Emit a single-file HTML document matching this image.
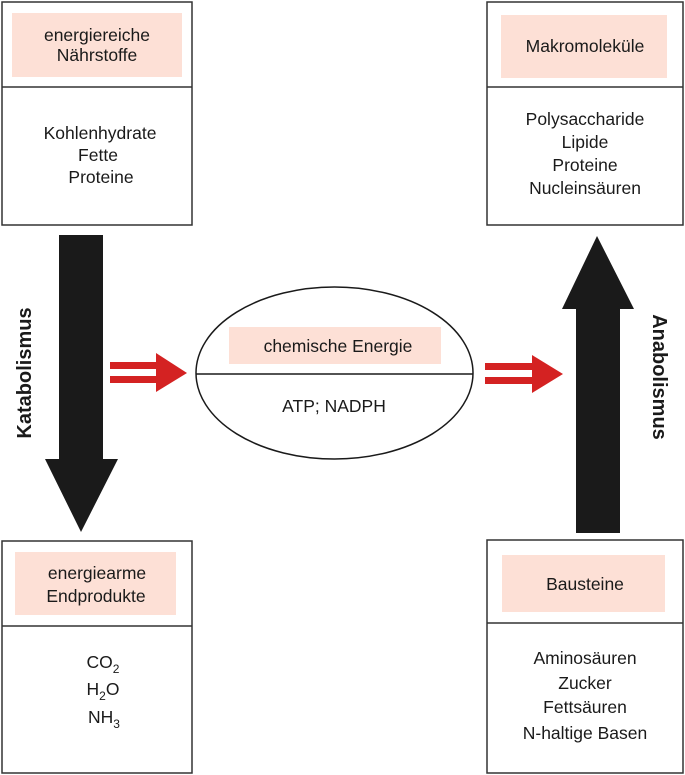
<!DOCTYPE html>
<html><head><meta charset="utf-8"><style>
html,body{margin:0;padding:0;background:#fff;}
svg{display:block;}
text{font-family:"Liberation Sans",Arial,sans-serif;fill:#1a1a1a;}
</style></head><body>
<svg width="685" height="775" viewBox="0 0 685 775" xmlns="http://www.w3.org/2000/svg">
<g stroke="#333" stroke-width="1.5" fill="none">
<rect x="2" y="2" width="190" height="223"/><line x1="2" y1="87" x2="192" y2="87"/>
<rect x="487" y="2" width="196" height="223"/><line x1="487" y1="87" x2="683" y2="87"/>
<rect x="2" y="541" width="190" height="232"/><line x1="2" y1="626" x2="192" y2="626"/>
<rect x="487" y="540" width="196" height="233"/><line x1="487" y1="623" x2="683" y2="623"/>
</g>
<g fill="#fde0d6">
<rect x="12" y="13" width="170" height="64"/>
<rect x="501" y="15" width="166" height="63"/>
<rect x="15" y="552" width="161" height="63"/>
<rect x="502" y="555" width="163" height="57"/>
<rect x="229" y="327" width="212" height="37"/>
</g>
<ellipse cx="334.5" cy="373" rx="138.5" ry="86" fill="none" stroke="#1a1a1a" stroke-width="1.5"/>
<line x1="196" y1="374" x2="473" y2="374" stroke="#1a1a1a" stroke-width="1.5"/>
<g fill="#1a1a1a">
<polygon points="59,235 103,235 103,459 118,459 81,532 45,459 59,459"/>
<polygon points="576,533 620,533 620,309 634,309 597,236 562,309 576,309"/>
</g>
<g fill="#d42222">
<rect x="110" y="362" width="50" height="7"/><rect x="110" y="376" width="50" height="7"/>
<polygon points="156,353 187,373 156,392"/>
<rect x="485" y="363" width="50" height="7"/><rect x="485" y="377" width="50" height="7"/>
<polygon points="532,355 563,374 532,393"/>
</g>
<g font-size="17.5" text-anchor="middle">
<text x="97" y="41">energiereiche</text>
<text x="97" y="61">Nährstoffe</text>
<text x="100" y="139">Kohlenhydrate</text>
<text x="98" y="161">Fette</text>
<text x="101" y="183">Proteine</text>
<text x="585" y="52">Makromoleküle</text>
<text x="585" y="125">Polysaccharide</text>
<text x="585" y="148">Lipide</text>
<text x="585" y="171">Proteine</text>
<text x="585" y="194">Nucleinsäuren</text>
<text x="338" y="352">chemische Energie</text>
<text x="334" y="412">ATP;  NADPH</text>
<text x="97" y="579">energiearme</text>
<text x="96" y="602">Endprodukte</text>
<text x="103" y="668">CO<tspan font-size="12" dy="5">2</tspan></text>
<text x="103" y="695">H<tspan font-size="12" dy="5">2</tspan><tspan dy="-5">O</tspan></text>
<text x="104" y="723">NH<tspan font-size="12" dy="5">3</tspan></text>
<text x="585" y="590">Bausteine</text>
<text x="585" y="664">Aminosäuren</text>
<text x="585" y="689">Zucker</text>
<text x="585" y="713">Fettsäuren</text>
<text x="585" y="739">N-haltige Basen</text>
</g>
<g font-size="20" font-weight="bold" text-anchor="middle">
<text transform="translate(31,373) rotate(-90)">Katabolismus</text>
<text transform="translate(653,377) rotate(90)">Anabolismus</text>
</g>
</svg>
</body></html>
